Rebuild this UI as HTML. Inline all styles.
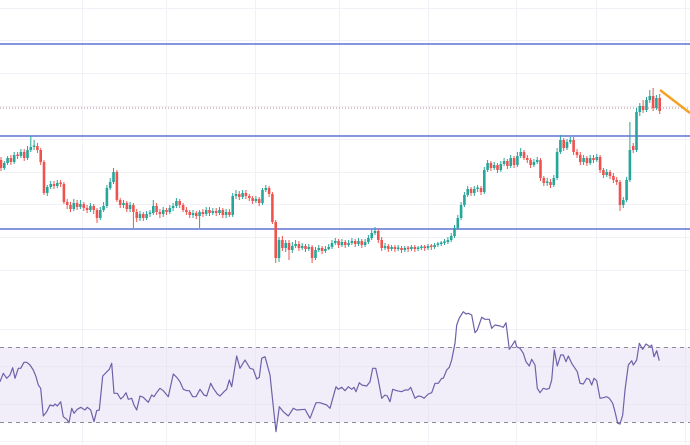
<!DOCTYPE html>
<html><head><meta charset="utf-8"><style>
html,body{margin:0;padding:0;background:#fff;}
svg{display:block;}
</style></head><body>
<svg width="690" height="445" viewBox="0 0 690 445" xmlns="http://www.w3.org/2000/svg">
<rect width="690" height="445" fill="#ffffff"/>
<!-- grid -->
<g stroke="#f0f2f7" stroke-width="1" fill="none">
<path d="M0 8.5H690M0 40.5H690M0 73.5H690M0 106.5H690M0 139.5H690M0 172.5H690M0 204.5H690M0 237.5H690M0 270.5H690"/>
<path d="M0 329.5H690M0 366.5H690M0 404.5H690M0 441.5H690"/>
<path d="M82.5 0V445M166.5 0V445M255.5 0V445M339.5 0V445M428.5 0V445M516.5 0V445M596.5 0V445M685.5 0V445"/>
</g>
<!-- RSI band -->
<rect x="0" y="347" width="690" height="75" fill="#f2eef9"/>
<path d="M0 366.5H690M0 404.5H690M82.5 347V422M166.5 347V422M255.5 347V422M339.5 347V422M428.5 347V422M516.5 347V422M596.5 347V422M685.5 347V422" stroke="#ebe6f4" stroke-width="1"/>
<path d="M0 347.5H690M0 422.5H690" stroke="#8a8c96" stroke-width="1" stroke-dasharray="4 4" fill="none"/>
<!-- horizontal levels -->
<path d="M0 44H690M0 136H690M0 229H690" stroke="#5d74d4" stroke-width="1.5" fill="none"/>
<path d="M0 108H690" stroke="#b88484" stroke-width="1" stroke-dasharray="1 2" fill="none"/>
<!-- green candles -->
<g stroke="#26a69a" fill="none">
<path stroke-width="1" d="M4.3 161V170M7.6 156V165M14.2 152V164M20.9 149V158M27.5 146V160M30.8 136V152M34.1 140V150M47.3 185V196M50.7 181V189M57.3 180V188M73.8 199V211M80.4 200V209M90.4 203V212M100.3 207V220M103.6 202V212M106.9 185V208M110.2 178V190M113.5 168V184M123.5 200V208M130.1 202V212M140 211V221M146.6 211V220M150 210V217M153.3 200V215M163.2 207V217M169.8 205V214M173.1 203V211M176.4 198V208M193 210V218M199.6 210V228M206.2 207V216M212.8 208V215M219.5 207V215M226.1 209V218M232.7 193V217M236 190V199M242.6 190V199M255.9 196V203M262.5 188V205M265.8 185V192M279 237V262M285.7 240V252M292.3 242V253M295.6 240V248M302.2 243V250M308.8 244V251M315.5 247V260M318.8 245V252M325.4 246V253M328.7 244V250M332 240V249M335.3 238V245M341.9 239V247M348.6 240V247M351.9 238V245M358.5 238V246M365.1 239V247M368.4 235V244M371.7 230V240M375 227V235M385 243V250M391.6 245V251M398.2 245V251M404.8 246V252M411.4 245V251M418.1 246V251M421.4 245V250M428 244V250M434.6 243V249M437.9 242V247M441.2 241V246M444.5 239V245M447.9 237V244M451.2 233V242M454.5 225V238M457.8 215V230M461.1 202V220M464.4 192V207M467.7 186V197M474.3 186V196M477.6 185V192M484.3 167V194M487.6 160V172M494.2 162V170M500.8 161V172M504.1 158V166M510.7 155V168M517.4 152V167M520.7 148V158M533.9 159V167M537.2 157V164M547.2 178V186M553.8 175V187M557.1 148V180M560.4 135V154M567 139V150M570.3 137V144M583.6 155V165M590.2 155V165M596.8 154V162M606.7 169V177M623.3 197V208M626.6 177V202M629.9 122V182M636.5 108V152M639.8 103V116M646.5 97V112M649.8 90V103M656.4 95V110"/>
<path stroke-width="2.6" d="M4.3 163V168M7.6 158V163M14.2 155V162M20.9 152V156M27.5 150V158M30.8 147V150M34.1 145.5V147M47.3 187V193M50.7 184V187M57.3 183V186M73.8 203V209M80.4 204V207M90.4 206V210M100.3 210V218M103.6 206V210M106.9 188V206M110.2 182V188M113.5 172V182M123.5 203V205M130.1 205V209M140 214V218M146.6 214V218M150 212.5V214M153.3 206V213M163.2 210V214M169.8 208V212M173.1 206V208M176.4 201V206M193 213V215M199.6 212V216M206.2 210V214M212.8 211V213M219.5 210V213M226.1 212V215M232.7 196V215M236 194V196M242.6 193V197M255.9 199V201M262.5 190V203M265.8 188V190M279 240V258M285.7 243V248M292.3 246V250M295.6 244V246M302.2 246V248M308.8 247V249M315.5 250V258M318.8 248V250M325.4 249V251M328.7 247V249M332 243V247M335.3 241V243M341.9 242V245M348.6 243V245M351.9 241V243M358.5 241V244M365.1 242V245M368.4 238V242M371.7 233V238M375 231V233M385 246V248M391.6 247V249M398.2 247.5V249M404.8 248V250M411.4 247V249M418.1 247.5V249M421.4 246.5V248M428 246V248M434.6 245V247M437.9 243.5V245M441.2 242.5V244M444.5 241.5V243M447.9 240V242M451.2 236V240M454.5 228V236M457.8 218V228M461.1 205V218M464.4 195V205M467.7 189V195M474.3 189V193M477.6 187.5V189M484.3 170V192M487.6 163V170M494.2 165V168M500.8 164V170M504.1 161V164M510.7 158V166M517.4 156V165M520.7 152V156M533.9 162V165M537.2 160V162M547.2 181.5V183M553.8 178V185M557.1 152V178M560.4 140V152M567 142V148M570.3 140V142M583.6 158V162M590.2 158V163M596.8 157V160M606.7 172V175M623.3 200V205M626.6 180V200M629.9 150V180M636.5 112V150M639.8 106V112M646.5 100V110M649.8 96V100M656.4 98V108"/>
</g>
<!-- red candles -->
<g stroke="#ef5350" fill="none">
<path stroke-width="1" d="M1 157V171M10.9 155V165M17.6 152V159M24.2 149V161M37.4 143V153M40.7 148V165M44 160V195M54 181V189M60.6 180V187M63.9 182V204M67.2 199V209M70.5 202V212M77.1 200V210M83.8 202V211M87.1 205V213M93.7 204V214M97 208V223M116.9 170V202M120.2 198V208M126.8 201V212M133.4 203V228M136.7 209V222M143.3 212V221M156.6 203V215M159.9 209V218M166.5 208V215M179.7 199V208M183.1 203V212M186.4 207V215M189.7 210V218M196.3 211V219M202.9 209V217M209.5 207V216M216.2 208V216M222.8 208V218M229.4 209V217M239.3 191V200M245.9 190V199M249.3 194V201M252.6 196V204M259.2 197V206M269.1 186V197M272.4 192V224M275.7 220V263M282.4 236V251M289 240V260M298.9 241V251M305.5 244V252M312.1 245V263M322.1 246V254M338.6 239V248M345.2 240V248M355.2 239V247M361.8 239V248M378.3 229V243M381.7 237V251M388.3 244V252M394.9 245V252M401.5 246V253M408.1 246V252M414.8 245V252M424.7 245V251M431.3 244V250M471 187V196M481 186V195M490.9 161V171M497.5 163V173M507.4 159V169M514.1 156V168M524 150V160M527.3 155V163M530.6 158V168M540.5 158V181M543.8 176V186M550.5 179V188M563.7 138V151M573.6 137V155M577 149V158M580.3 152V165M586.9 156V166M593.5 155V163M600.1 155V173M603.4 168V178M610 170V179M613.4 173V183M616.7 177V185M620 180V211M633.2 143V153M643.1 100V113M653.1 88V111M659.7 94V114"/>
<path stroke-width="2.6" d="M1 160V168M10.9 158V162M17.6 154.5V156M24.2 152V158M37.4 146V150M40.7 150V162M44 162V193M54 184V186M60.6 182.5V184M63.9 184V202M67.2 202V205M70.5 205V209M77.1 203V207M83.8 204V208M87.1 208V210M93.7 206V210M97 210V218M116.9 172V200M120.2 200V205M126.8 203V209M133.4 205V212M136.7 212V218M143.3 214V218M156.6 206V212M159.9 212V214M166.5 210V212M179.7 201V205M183.1 205V210M186.4 210V212M189.7 212V215M196.3 213V216M202.9 212V214M209.5 210V213M216.2 211V213M222.8 210V215M229.4 212V215M239.3 194V197M245.9 193V196M249.3 196V198M252.6 198V201M259.2 199V203M269.1 188V194M272.4 194V222M275.7 222V258M282.4 240V248M289 243V250M298.9 244V248M305.5 246V249M312.1 247V258M322.1 248V251M338.6 241V245M345.2 242V245M355.2 241V244M361.8 241V245M378.3 231V240M381.7 240V248M388.3 246V249M394.9 247V249M401.5 248V250M408.1 247.5V249M414.8 247V249M424.7 246.5V248M431.3 245.5V247M471 189V193M481 188V192M490.9 163V168M497.5 165V170M507.4 161V166M514.1 158V165M524 152V158M527.3 158V160M530.6 160V165M540.5 160V178M543.8 178V183M550.5 182V185M563.7 140V148M573.6 140V152M577 152V155M580.3 155V162M586.9 158V163M593.5 158V160M600.1 157V170M603.4 170V175M610 172V176M613.4 176V180M616.7 180V182M620 182V205M633.2 146V150M643.1 106V110M653.1 96V108M659.7 98V111"/>
</g>
<!-- orange trend line -->
<path d="M660 90L690 113" stroke="#f5a020" stroke-width="2.4" fill="none"/>
<!-- RSI line -->
<polyline fill="none" stroke="#7060aa" stroke-width="1.2" stroke-linejoin="round" points="0,381.7 3.3,373.3 6.7,378.3 10,375 12.7,367.7 15,378.3 18.3,368.3 20.7,368.3 24,362.3 26.7,362.3 30,365 33.3,370 36,376.7 38.3,385 40.7,388.3 43.3,416 46.7,411.7 50,405 53.3,406 55,404 57.3,406 60.7,401.7 63.3,416.7 66.7,419.3 69,422.7 71.7,408.3 74,413.3 77.3,409.3 80.7,407.3 85,410 87.3,407.3 90.7,410 94,421.7 96.7,410.7 99.3,410 102.7,376 106,372.7 109.3,369.3 111.7,363.3 114,393.3 117.3,393.3 120.7,399 123.3,396.7 126,392.7 128.3,399.3 131.7,398.3 134,405 136.7,410 140,396 143.3,397.3 148.3,402.3 151.7,395 154,396.7 157.3,391.7 160,388.3 163.3,390.7 168.3,396.7 173.3,374 176.7,377.3 180,381.7 183.3,389.3 186.7,390.7 189.3,390.7 192.7,396.7 196,396.7 200,389.3 204,395 206.7,396 210.7,383.3 213.3,388.3 217.3,394 220,396 224,391.7 226.7,389.3 229.3,380 231.7,386.7 236.7,356 240,368.3 245,360 250,368.3 253.3,369.3 256.7,379 259.3,377.3 261.7,358.3 265,356.7 270,375 273.3,406.7 276,431.7 279.3,406.7 283.3,411.7 288.3,416 293.3,408.3 296.7,410 305,409.3 310,418.3 316,402.7 320,402.7 326.7,405 330,408.3 336,386.7 338.3,389.3 341.7,387.3 345,390.7 348.3,386.7 351.7,389.3 354,387.3 356,391.7 359.3,382.7 361.7,385 366.7,386 370,381.7 372.7,368.3 375.7,368.3 378.3,380 381.7,398.3 385,395 387.3,396 390,401.7 392.7,389.3 396.7,390.7 401.7,391.7 405,390 408.3,390 410.7,387.3 415,398.3 418.3,396 421.7,396.7 424,398.3 428.3,394 431.7,392.7 435,383.3 438.3,383.3 441.7,378.3 443.3,378.3 446.7,370 449.3,367.3 451.7,360 455,343.3 456.7,325 459.3,318 463.3,311.7 466,314 468.3,313.3 471.7,315 475,332.7 477.3,330 481.7,317.3 485,319.3 489.3,319.3 491.7,328.3 495,325 500,326 503.3,327.3 506,322.7 509.3,349.3 511.7,346 515,340.7 516.7,346.7 520,348.3 523.3,353.3 526,361.7 529.3,366 531.7,359.3 535,365 537.3,388.3 540,392.7 543.3,388.3 546.7,389.3 549.3,388.3 551.7,380 554.3,350 557.3,366 560.7,355 563.3,355 566,361.7 568.3,356 571.7,363.3 575,368.3 577.3,371.7 580,383.3 583.3,384 586.7,378.3 589.3,379.3 591.7,385 594,378.3 596.7,380.7 600,398.3 603.3,397.7 606.7,396.7 609.3,398.3 612.7,403.3 615,411.7 617.7,423.3 620,424 622.7,415 625,390 628.3,365 631.7,360.7 633.3,365 636.7,360 639.3,343.3 642.7,349.3 646,344 650,346.7 651.7,345 654,356.7 656.7,350.7 659.3,360.7"/>
</svg>
</body></html>
